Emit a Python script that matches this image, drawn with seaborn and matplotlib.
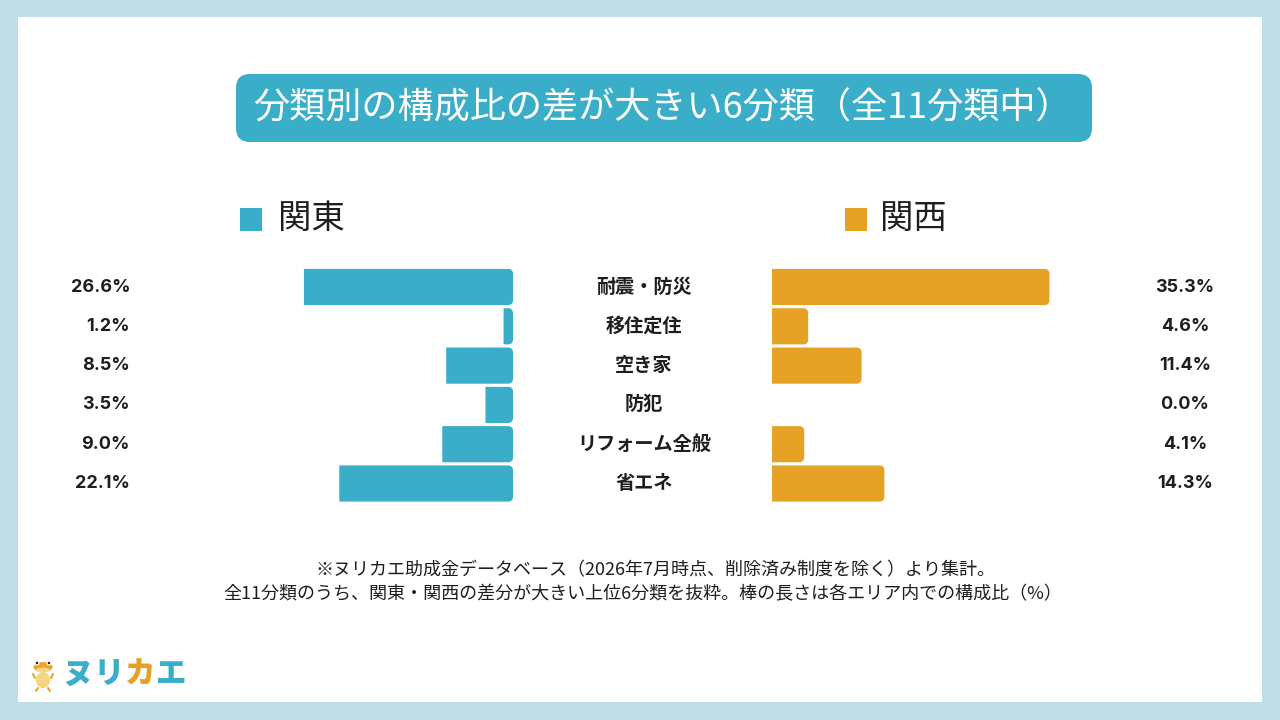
import numpy as np
import pandas as pd
import matplotlib
matplotlib.use("Agg")
import matplotlib.pyplot as plt
import seaborn as sns
from matplotlib.patches import Rectangle, FancyBboxPatch, Ellipse, PathPatch
from matplotlib.path import Path
from matplotlib.transforms import blended_transform_factory

# ---------------- data ----------------
categories = ["耐震・防災", "移住定住", "空き家", "防犯", "リフォーム全般", "省エネ"]
kanto = [26.6, 1.2, 8.5, 3.5, 9.0, 22.1]
kansai = [35.3, 4.6, 11.4, 0.0, 4.1, 14.3]
series_names = ["関東", "関西"]
title = "分類別の構成比の差が大きい6分類（全11分類中）"
footnotes = [
    "※ヌリカエ助成金データベース（2026年7月時点、削除済み制度を除く）より集計。",
    "全11分類のうち、関東・関西の差分が大きい上位6分類を抜粋。棒の長さは各エリア内での構成比（%）",
]
logo_chars = ["ヌ", "リ", "カ", "エ"]

# ---------------- style ----------------
BLUE = "#3aadc8"
ORANGE = "#e6a224"
BORDER = "#c1dee6"
TEXT = "#1e1e1e"

sns.set_theme(style="white")
plt.rcParams["font.family"] = ["Noto Sans CJK JP", "DejaVu Sans"]

W, H = 1280, 720
fig = plt.figure(figsize=(12.8, 7.2), dpi=100)
fig.patch.set_facecolor(BORDER)

bg = fig.add_axes([0, 0, 1, 1])
bg.set_xlim(0, W)
bg.set_ylim(H, 0)
bg.axis("off")
bg.add_patch(Rectangle((18, 17), 1244, 685, facecolor="white", edgecolor="none"))

# title box
bg.add_patch(FancyBboxPatch((236, 74), 856, 68, boxstyle="round,pad=0,rounding_size=14",
                            facecolor=BLUE, edgecolor="none"))
bg.text(253, 108, title, color="white", fontsize=26, va="center", ha="left")

# legend
for (sx, tx), name, col in zip([(240, 278), (845, 880)], series_names, [BLUE, ORANGE]):
    bg.add_patch(Rectangle((sx, 208), 22, 23, facecolor=col, edgecolor="none"))
    bg.text(tx, 218, name, color=TEXT, fontsize=24, va="center", ha="left")

# ---------------- bars ----------------
PX = 7.86           # pixels per percent
ROW = 39.3          # pixels per row
AXW = 330           # axes width in px
top_px = 287 - ROW / 2
ax_h = ROW * len(categories)
bottom = 1 - (top_px + ax_h) / H

axL = fig.add_axes([(513 - AXW) / W, bottom, AXW / W, ax_h / H])
axR = fig.add_axes([772 / W, bottom, AXW / W, ax_h / H])

dfL = pd.DataFrame({"category": categories, "value": kanto})
dfR = pd.DataFrame({"category": categories, "value": kansai})
sns.barplot(data=dfL, y="category", x="value", ax=axL, color=BLUE, saturation=1,
            width=0.92, orient="h", linewidth=0, edgecolor="none")
sns.barplot(data=dfR, y="category", x="value", ax=axR, color=ORANGE, saturation=1,
            width=0.92, orient="h", linewidth=0, edgecolor="none")

axL.set_xlim(AXW / PX, 0)
axR.set_xlim(0, AXW / PX)
for ax in (axL, axR):
    ax.set_ylim(len(categories) - 0.5, -0.5)
    ax.axis("off")
    ax.patch.set_alpha(0)

# redraw each seaborn bar with rounded corners at the visually right end
r_px = 5.0
ry = r_px / ROW
C3 = Path.CURVE3
for ax, col, round_at_zero in ((axL, BLUE, True), (axR, ORANGE, False)):
    for p in list(ax.patches):
        w = p.get_width()
        if w <= 0:
            continue
        x0, y0, h = p.get_x(), p.get_y(), p.get_height()
        x1, y1 = x0 + w, y0 + h
        rx = min(r_px / PX, w * 0.5)
        if round_at_zero:
            verts = [(x1, y0), (x0 + rx, y0), (x0, y0), (x0, y0 + ry),
                     (x0, y1 - ry), (x0, y1), (x0 + rx, y1), (x1, y1), (x1, y0)]
        else:
            verts = [(x0, y0), (x1 - rx, y0), (x1, y0), (x1, y0 + ry),
                     (x1, y1 - ry), (x1, y1), (x1 - rx, y1), (x0, y1), (x0, y0)]
        codes = [Path.MOVETO, Path.LINETO, C3, C3, Path.LINETO, C3, C3,
                 Path.LINETO, Path.CLOSEPOLY]
        ax.add_patch(PathPatch(Path(verts, codes), facecolor=col, edgecolor="none",
                               linewidth=0))
        p.set_visible(False)

# value labels and category labels
trL = blended_transform_factory(bg.transData, axL.transData)
trR = blended_transform_factory(bg.transData, axR.transData)
for i, (cat, a, b) in enumerate(zip(categories, kanto, kansai)):
    bg.text(130, i, f"{a:.1f}%", transform=trL, ha="right", va="center",
            fontsize=13, fontweight="bold", family=["Inter", "DejaVu Sans"], color=TEXT)
    bg.text(1185, i, f"{b:.1f}%", transform=trR, ha="center", va="center",
            fontsize=13, fontweight="bold", family=["Inter", "DejaVu Sans"], color=TEXT)
    bg.text(644, i, cat, transform=trL, ha="center", va="center",
            fontsize=13.8, fontweight="bold", color=TEXT)

# footnotes
bg.text(655, 570, footnotes[0], ha="center", va="center", fontsize=13, color=TEXT)
bg.text(643, 594, footnotes[1], ha="center", va="center", fontsize=13, color=TEXT)

# ---------------- logo ----------------
bg.add_patch(Ellipse((43, 680), 14, 16, facecolor="#f7d47e", edgecolor="none"))
bg.add_patch(Ellipse((43, 667), 19, 10, facecolor="#eaa52a", edgecolor="none"))
bg.add_patch(Ellipse((43, 670), 14, 5, facecolor="#f7d47e", edgecolor="none"))
for ex in (37, 49):
    bg.add_patch(Ellipse((ex, 663), 5, 5, facecolor="white", edgecolor="none"))
    bg.add_patch(Ellipse((ex, 663), 2.5, 2.5, facecolor="#222222", edgecolor="none"))
bg.plot([35, 33], [678, 674], color="#eaa52a", lw=1.5, solid_capstyle="round")
bg.plot([51, 53], [678, 674], color="#eaa52a", lw=1.5, solid_capstyle="round")
bg.plot([38, 36], [688, 691], color="#eaa52a", lw=1.5, solid_capstyle="round")
bg.plot([48, 50], [688, 691], color="#eaa52a", lw=1.5, solid_capstyle="round")

logo_colors = [BLUE, BLUE, ORANGE, BLUE]
for k, (ch, col) in enumerate(zip(logo_chars, logo_colors)):
    bg.text(78 + 31 * k, 674, ch, ha="center", va="center", fontsize=22,
            fontweight="heavy", color=col)

fig.savefig("out.png", dpi=100, facecolor=fig.get_facecolor())
